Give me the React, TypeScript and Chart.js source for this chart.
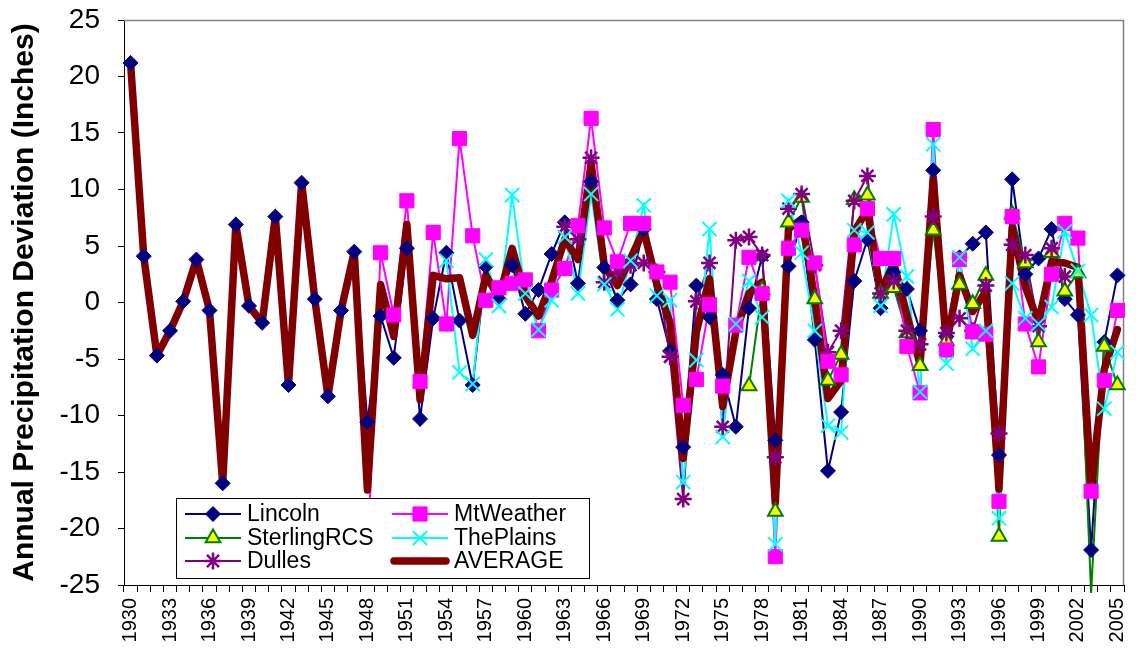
import React, { useEffect, useRef } from 'react';
import { Chart, registerables } from 'chart.js';
import { drawPoint } from 'chart.js/helpers';

Chart.register(...registerables);

const FONT = '"Liberation Sans", Arial, Helvetica, sans-serif';

// ---------- DATA ----------
const years = [
  1930, 1931, 1932, 1933, 1934, 1935, 1936, 1937, 1938, 1939,
  1940, 1941, 1942, 1943, 1944, 1945, 1946, 1947, 1948, 1949,
  1950, 1951, 1952, 1953, 1954, 1955, 1956, 1957, 1958, 1959,
  1960, 1961, 1962, 1963, 1964, 1965, 1966, 1967, 1968, 1969,
  1970, 1971, 1972, 1973, 1974, 1975, 1976, 1977, 1978, 1979,
  1980, 1981, 1982, 1983, 1984, 1985, 1986, 1987, 1988, 1989,
  1990, 1991, 1992, 1993, 1994, 1995, 1996, 1997, 1998, 1999,
  2000, 2001, 2002, 2003, 2004, 2005,
];

const lincoln = [
  21.2, 4.1, -4.7, -2.5, 0.1, 3.8, -0.7, -16.0, 6.9, -0.3,
  -1.8, 7.6, -7.3, 10.6, 0.3, -8.3, -0.7, 4.5, -10.6, -1.2,
  -4.9, 4.8, -10.3, -1.4, 4.4, -1.6, -7.3, 3.2, 0.3, 3.3,
  -1.0, 1.1, 4.3, 7.1, 1.7, 10.7, 3.1, 0.2, 1.6, 6.5,
  0.3, -4.3, -12.8, 1.5, -1.3, -6.4, -11.0, -0.5, 4.1, -12.2,
  3.2, 7.1, -3.3, -14.9, -9.7, 1.9, 5.6, -0.5, 2.7, 1.2,
  -2.5, 11.7, -3.0, 4.0, 5.2, 6.2, -13.5, 10.9, 2.5, 3.9,
  6.5, 0.3, -1.1, -21.9, -3.5, 2.4,
];

const sterlingRCS = [
  null, null, null, null, null, null, null, null, null, null,
  null, null, null, null, null, null, null, null, null, null,
  null, null, null, null, null, null, null, null, null, null,
  null, null, null, null, null, null, null, null, null, null,
  null, null, null, null, null, null, null, -7.4, 1.1, -18.5,
  7.1, 9.3, 0.3, -6.9, -4.6, 9.1, 9.5, 0.8, 1.3, -2.7,
  -5.6, 6.4, -3.4, 1.6, -0.1, 2.4, -20.7, 7.8, 3.5, -3.5,
  4.4, 1.0, 2.6, -25.7, -3.9, -7.3,
];

const dulles = [
  null, null, null, null, null, null, null, null, null, null,
  null, null, null, null, null, null, null, null, null, null,
  null, null, null, null, null, null, null, null, null, null,
  null, null, null, 6.7, 5.6, 12.8, 1.8, 2.7, 3.3, 3.5,
  2.7, -4.8, -17.4, 0.1, 3.5, -11.0, 5.5, 5.8, 4.2, -13.7,
  8.3, 9.6, 3.3, -4.4, -2.5, 9.0, 11.2, 0.8, 1.9, -2.5,
  -3.7, 7.6, -2.7, -1.4, -2.5, 1.5, -11.6, 5.1, 4.2, -2.1,
  4.8, 2.3, null, null, null, null,
];

const mtWeather = [
  null, null, null, null, null, null, null, null, null, null,
  null, null, null, null, null, null, null, null, -22.6, 4.4,
  -1.1, 9.0, -7.0, 6.2, -1.9, 14.5, 5.9, 0.2, 1.3, 1.7,
  2.0, -2.5, 1.1, 3.0, 6.8, 16.3, 6.6, 3.6, 7.0, 7.0,
  2.7, 1.8, -9.1, -6.8, -0.2, -7.4, -2.0, 4.0, 0.8, -22.5,
  4.8, 6.4, 3.5, -5.2, -6.4, 5.1, 8.3, 3.9, 3.9, -3.9,
  -8.0, 15.3, -4.2, 3.8, -2.6, -2.8, -17.6, 7.6, -1.9, -5.7,
  2.5, 7.0, 5.7, -16.7, -6.9, -0.7,
];

const thePlains = [
  null, null, null, null, null, null, null, null, null, null,
  null, null, null, null, null, null, null, null, null, null,
  null, null, null, null, 3.7, -6.2, -7.2, 3.8, -0.3, 9.5,
  0.8, -2.4, 0.2, 5.8, 0.8, 9.6, 1.6, -0.6, 3.7, 8.6,
  0.6, 0.2, -15.9, -5.1, 6.5, -11.9, -1.9, 1.9, -1.3, -21.4,
  9.0, 4.4, -2.5, -10.9, -11.5, 6.4, 6.2, -0.3, 7.8, 2.3,
  -7.9, 14.0, -5.4, 4.0, -4.1, -2.5, -19.1, 1.7, -1.4, -1.9,
  -0.4, 6.3, 2.8, -1.1, -9.4, -4.4,
];

const average = [
  21.2, 4.1, -4.7, -2.5, 0.1, 3.8, -0.7, -16.0, 6.9, -0.3,
  -1.8, 7.6, -7.3, 10.6, 0.3, -8.3, -0.7, 4.5, -16.6, 1.6,
  -3.0, 6.9, -8.6, 2.4, 2.1, 2.2, -2.9, 2.4, 0.4, 4.8,
  0.6, -1.2, 1.9, 5.6, 3.8, 12.3, 3.3, 1.5, 3.9, 6.4,
  1.6, -1.8, -13.8, -2.6, 2.1, -9.2, -2.6, 0.8, 1.8, -17.7,
  6.5, 7.4, 0.3, -8.5, -6.9, 6.3, 8.2, 0.9, 3.5, -1.1,
  -5.5, 11.0, -3.7, 2.4, -0.8, 1.0, -16.5, 6.6, 1.4, -1.8,
  3.6, 3.5, 3.1, -16.4, -5.9, -2.4,
];

const yTickMin = -25;
const yTickMax = 25;
const yTickStep = 5;
const xLabelEvery = 3;

// ---------- STYLES ----------
type SeriesStyle = {
  label: string;
  data: (number | null)[];
  color: string;
  pointStyle: any;
  radius: number;
  bg: string;
  pbw: number;
  lineWidth: number;
  col: number;
  row: number;
};

const series: SeriesStyle[] = [
  { label: 'Lincoln', data: lincoln, color: '#000080', pointStyle: 'rectRot', radius: 7.5, bg: '#000080', pbw: 1, lineWidth: 2, col: 0, row: 0 },
  { label: 'SterlingRCS', data: sterlingRCS, color: '#008000', pointStyle: 'triangle', radius: 8.5, bg: '#FFFF00', pbw: 2, lineWidth: 2, col: 0, row: 1 },
  { label: 'Dulles', data: dulles, color: '#800080', pointStyle: 'star', radius: 8.5, bg: 'rgba(0,0,0,0)', pbw: 2.5, lineWidth: 2, col: 0, row: 2 },
  { label: 'MtWeather', data: mtWeather, color: '#FF00FF', pointStyle: 'rect', radius: 10, bg: '#FF00FF', pbw: 1, lineWidth: 2, col: 1, row: 0 },
  { label: 'ThePlains', data: thePlains, color: '#00FFFF', pointStyle: 'crossRot', radius: 10, bg: 'rgba(0,0,0,0)', pbw: 2, lineWidth: 2, col: 1, row: 1 },
];
const avgStyle = { label: 'AVERAGE', color: '#800000', lineWidth: 7.5, col: 1, row: 2 };

// plot frame (top/right grey edges)
const framePlugin = {
  id: 'frame',
  beforeDatasetsDraw(chart: any) {
    const { ctx, chartArea } = chart;
    ctx.save();
    ctx.strokeStyle = '#808080';
    ctx.lineWidth = 1.5;
    ctx.beginPath();
    ctx.moveTo(chartArea.left, chartArea.top + 0.5);
    ctx.lineTo(chartArea.right - 0.5, chartArea.top + 0.5);
    ctx.lineTo(chartArea.right - 0.5, chartArea.bottom);
    ctx.stroke();
    ctx.restore();
  },
};

// boxed legend inside the plot area
const boxLegendPlugin = {
  id: 'boxLegend',
  afterDraw(chart: any) {
    const { ctx, chartArea } = chart;
    const bl = chartArea.left + 52;
    const bt = chartArea.bottom - 87;
    const bw = 413;
    const bh = 80;
    ctx.save();
    ctx.fillStyle = '#ffffff';
    ctx.fillRect(bl, bt, bw, bh);
    ctx.strokeStyle = '#000000';
    ctx.lineWidth = 1;
    ctx.strokeRect(bl + 0.5, bt + 0.5, bw, bh);
    const rowY = [bt + 16, bt + 40, bt + 63];
    const colX = [bl + 9, bl + 216];
    const segW = 56;
    ctx.font = `23px ${FONT}`;
    ctx.textBaseline = 'middle';
    ctx.textAlign = 'left';
    const items: any[] = [...series, { ...avgStyle, avg: true }];
    for (const it of items) {
      const x0 = colX[it.col];
      const y = rowY[it.row];
      ctx.save();
      ctx.strokeStyle = it.color;
      ctx.lineWidth = it.lineWidth;
      ctx.lineCap = it.avg ? 'round' : 'butt';
      ctx.beginPath();
      ctx.moveTo(x0 + (it.avg ? 2 : 0), y);
      ctx.lineTo(x0 + segW - (it.avg ? 2 : 0), y);
      ctx.stroke();
      if (!it.avg) {
        ctx.lineWidth = it.pbw;
        ctx.strokeStyle = it.color;
        ctx.fillStyle = it.bg;
        drawPoint(ctx, { pointStyle: it.pointStyle, radius: it.radius, borderWidth: it.pbw, rotation: 0 } as any, x0 + segW / 2, y);
      }
      ctx.restore();
      ctx.fillStyle = '#000000';
      ctx.fillText(it.label, x0 + 62, y + 1);
    }
    ctx.restore();
  },
};

export default function App() {
  const canvasRef = useRef<HTMLCanvasElement | null>(null);

  useEffect(() => {
    if (!canvasRef.current) return;
    const n = series.length;
    const lineSets = series.map((s, i) => ({
      label: s.label + ' line',
      data: s.data,
      borderColor: s.color,
      backgroundColor: s.color,
      borderWidth: s.lineWidth,
      pointRadius: 0,
      tension: 0,
      fill: false,
      clip: false as any,
      order: 20 + (n - i),
    }));
    const markerSets = series.map((s, i) => ({
      label: s.label,
      data: s.data,
      showLine: false,
      borderColor: s.color,
      backgroundColor: s.bg,
      pointStyle: s.pointStyle,
      pointRadius: s.radius,
      pointBackgroundColor: s.bg,
      pointBorderColor: s.color,
      pointBorderWidth: s.pbw,
      order: 1 + (n - i),
    }));
    const avgSet = {
      label: avgStyle.label,
      data: average,
      borderColor: avgStyle.color,
      backgroundColor: avgStyle.color,
      borderWidth: avgStyle.lineWidth,
      borderJoinStyle: 'round' as const,
      borderCapStyle: 'round' as const,
      pointRadius: 0,
      tension: 0,
      fill: false,
      clip: false as any,
      order: 15,
    };

    const chart = new Chart(canvasRef.current, {
      type: 'line',
      data: {
        labels: years.map(String),
        datasets: [...lineSets, avgSet, ...markerSets] as any,
      },
      plugins: [framePlugin, boxLegendPlugin],
      options: {
        animation: false,
        responsive: false,
        devicePixelRatio: 1,
        events: [],
        layout: { padding: { top: 20, right: 3, left: 0, bottom: 0 } },
        plugins: {
          legend: { display: false },
          tooltip: { enabled: false },
          title: { display: false },
        },
        scales: {
          x: {
            type: 'category',
            offset: true,
            grid: {
              offset: true,
              drawOnChartArea: false,
              drawTicks: true,
              tickLength: 7,
              color: '#000000',
              lineWidth: 1,
            },
            border: { display: true, color: '#000000', width: 1 },
            ticks: {
              autoSkip: false,
              minRotation: 90,
              maxRotation: 90,
              padding: 6,
              color: '#000000',
              font: { family: FONT, size: 20 },
              callback: function (this: any, value: any, index: number) {
                return index % xLabelEvery === 0 ? this.getLabelForValue(value) : '';
              },
            },
            afterFit: (s: any) => {
              s.height = 67;
              s.paddingLeft = 0;
              s.paddingRight = 0;
            },
          },
          y: {
            min: yTickMin,
            max: yTickMax,
            grid: {
              drawOnChartArea: false,
              drawTicks: true,
              tickLength: 6,
              color: '#000000',
            },
            border: { display: true, color: '#000000', width: 1 },
            ticks: {
              stepSize: yTickStep,
              padding: 18,
              color: '#000000',
              font: { family: FONT, size: 28 },
            },
            title: {
              display: true,
              text: 'Annual Precipitation Deviation (Inches)',
              color: '#000000',
              font: { family: FONT, size: 30, weight: 'bold', lineHeight: 1 },
              padding: { top: 10, bottom: 0 },
            },
            afterFit: (s: any) => {
              s.width = 124;
              s.paddingTop = 0;
              s.paddingBottom = 0;
            },
          },
        },
      } as any,
    });
    return () => chart.destroy();
  }, []);

  return (
    <div style={{ position: 'absolute', left: 0, top: 0, width: 1136, height: 652, background: '#ffffff' }}>
      <canvas ref={canvasRef} width={1136} height={652} style={{ display: 'block' }} />
    </div>
  );
}
